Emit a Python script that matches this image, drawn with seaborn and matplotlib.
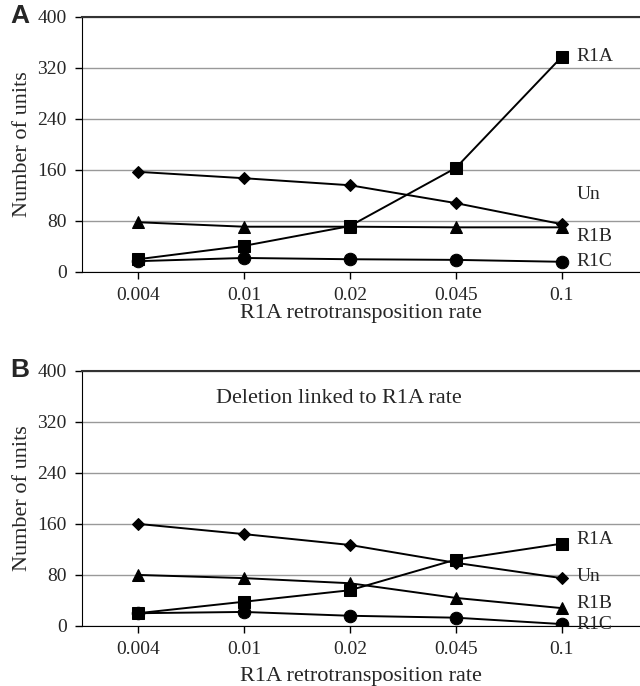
"""
Number of units per family vs R1A retrotransposition rate,
without (A) and with (B) deletion linked to R1A rate.
"""

import pandas as pd
import matplotlib
matplotlib.use('Agg')
import matplotlib.pyplot as plt
import seaborn as sns

# data
rates = ['0.004', '0.01', '0.02', '0.045', '0.1']
series = ['Un', 'R1B', 'R1A', 'R1C']

a_un = [157, 147, 136, 108, 75]
a_r1b = [78, 71, 71, 70, 70]
a_r1a = [20, 41, 72, 163, 337]
a_r1c = [17, 22, 20, 19, 16]

b_un = [160, 144, 127, 99, 75]
b_r1b = [80, 75, 67, 44, 28]
b_r1a = [20, 38, 56, 104, 129]
b_r1c = [20, 22, 16, 13, 3]

# where the end labels sit (y in data units)
a_label_y = {'R1A': 337, 'Un': 121, 'R1B': 56, 'R1C': 16}
b_label_y = {'R1A': 136, 'Un': 77, 'R1B': 36, 'R1C': 2}

markers = {'Un': 'D', 'R1B': '^', 'R1A': 's', 'R1C': 'o'}
msize = {'Un': 6, 'R1B': 8, 'R1A': 8, 'R1C': 9}


def to_long(un, r1b, r1a, r1c):
    rows = []
    for name, vals in zip(series, [un, r1b, r1a, r1c]):
        for r, v in zip(rates, vals):
            rows.append({'rate': r, 'units': v, 'series': name})
    return pd.DataFrame(rows)


sns.set_style('white')
plt.rcParams['font.family'] = ['Liberation Serif', 'DejaVu Serif']

fig = plt.figure(figsize=(6.4, 6.86), dpi=100)
ax_a = fig.add_axes([0.128, 0.6035, 0.872, 0.372])
ax_b = fig.add_axes([0.128, 0.0875, 0.872, 0.372])


def draw(ax, df, label_y, letter, xpad, note=None):
    for name in series:
        sub = df[df['series'] == name]
        sns.lineplot(data=sub, x='rate', y='units', ax=ax, color='black',
                     marker=markers[name], markersize=msize[name],
                     markeredgecolor='black', linewidth=1.4, sort=False)
        ax.text(4.14, label_y[name], name, fontsize=14, va='center',
                ha='left')
    ax.set_ylim(0, 400)
    ax.set_xlim(-0.53, 4.74)
    ax.set_yticks(range(0, 401, 80))
    ax.yaxis.grid(True, color='#999999', linewidth=1)
    ax.set_axisbelow(True)
    ax.spines['right'].set_visible(False)
    ax.spines['top'].set_color('#333333')
    ax.spines['top'].set_linewidth(1.5)
    ax.spines['left'].set_color('black')
    ax.spines['bottom'].set_color('black')
    ax.tick_params(axis='both', direction='out', length=5, width=1,
                   color='black', labelsize=14, pad=6,
                   bottom=True, left=True)
    ax.set_xlabel('R1A retrotransposition rate', fontsize=16, labelpad=xpad)
    ax.set_ylabel('Number of units', fontsize=16, labelpad=4)
    ax.text(-0.128, 1.005, letter, transform=ax.transAxes, fontsize=19,
            fontweight='bold', family=['Liberation Sans', 'DejaVu Sans'],
            va='center', ha='left')
    if note:
        ax.text(1.9, 357, note, fontsize=16, ha='center', va='center')


draw(ax_a, to_long(a_un, a_r1b, a_r1a, a_r1c), a_label_y, 'A', 0)
draw(ax_b, to_long(b_un, b_r1b, b_r1a, b_r1c), b_label_y, 'B', 6,
     note='Deletion linked to R1A rate')

fig.savefig('out.png', dpi=100)
